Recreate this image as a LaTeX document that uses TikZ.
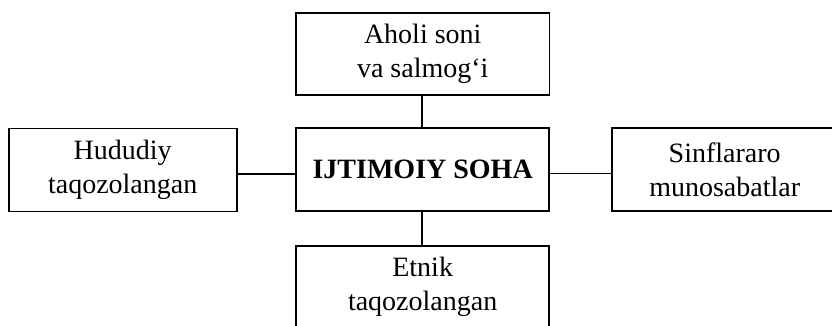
\documentclass[tikz,border=0pt]{standalone}
\usepackage{fontspec}
\setmainfont{Liberation Serif}
\begin{document}
\begin{tikzpicture}[x=1pt,y=1pt,
  box/.style={draw=black,line width=1.7pt,rectangle,align=center,inner sep=0pt,
    font=\fontsize{28}{34}\selectfont},
  conn/.style={draw=black,line width=1.7pt}]
\useasboundingbox (0,0) rectangle (832,-326);
\clip (0,0) rectangle (832,-326);
\node[box,minimum width=253.5pt,minimum height=82.6pt] (top) at (422.75,-54) {Aholi soni\\va salmog‘i};
\node[box,minimum width=253.3pt,minimum height=82.7pt,font=\fontsize{28}{34}\selectfont\bfseries] (center) at (422.65,-169.65) {IJTIMOIY SOHA};
\node[box,minimum width=228pt,minimum height=83pt] (left) at (122.7,-170) {Hududiy\\taqozolangan};
\node[box,minimum width=226pt,minimum height=82.7pt] (right) at (724.7,-169.65) {Sinflararo\\munosabatlar};
\node[box,minimum width=253.3pt,minimum height=82.6pt] (bottom) at (422.65,-287) {Etnik\\taqozolangan};
\draw[conn] ([xshift=-1pt]top.south) -- ([xshift=-1pt]top.south |- center.north);
\draw[conn] ([xshift=-1pt]center.south) -- ([xshift=-1pt]center.south |- bottom.north);
\draw[conn] ([yshift=-3.8pt]left.east) -- ([yshift=-3.8pt]left.east -| center.west);
\draw[conn] ([yshift=-3.8pt]center.east) -- ([yshift=-3.8pt]center.east -| right.west);
\end{tikzpicture}
\end{document}
